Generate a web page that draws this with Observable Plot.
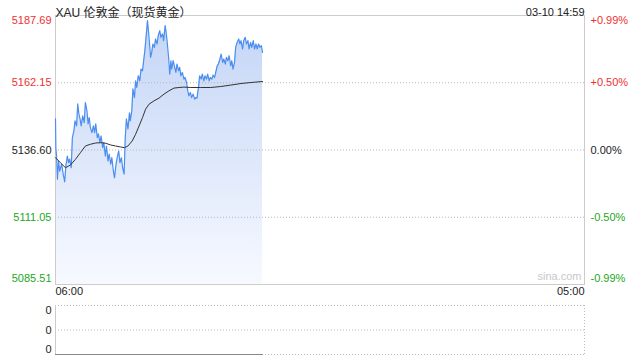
<!DOCTYPE html>
<html>
<head>
<meta charset="utf-8">
<script src="https://cdn.jsdelivr.net/npm/d3@7"></script>
<script src="https://cdn.jsdelivr.net/npm/@observablehq/plot@0.6"></script>
<style>
  html, body { margin: 0; padding: 0; background: #fff; }
  #wrap { position: relative; width: 640px; height: 360px; overflow: hidden; }
  #main { position: absolute; left: 0; top: 0; }
  #vol { position: absolute; left: 0; top: 300px; }
</style>
</head>
<body>
<div id="wrap"><div id="main"></div><div id="vol"></div></div>
<script>
// ---- data (minutes after 06:00, price) ----
const title = "XAU 伦敦金（现货黄金）";
const stamp = "03-10 14:59";
const sessionStart = "06:00";
const sessionEnd = "05:00";
const sessionMinutes = 1380;

const priceMinutes = [0,1,3,5,8,11,16,20,24,27,31,34,37,41,44,48,51,55,58,61,64,67,71,75,78,82,85,88,91,95,99,102,105,109,112,116,119,123,126,130,133,137,140,144,147,151,154,158,161,165,168,172,175,179,182,185,189,193,195,199,202,206,209,212,216,220,223,227,230,233,237,240,244,248,251,254,258,261,265,268,272,275,279,282,286,288,291,295,298,301,303,307,310,314,317,321,324,327,331,335,338,342,345,348,352,355,359,363,366,369,373,376,380,383,387,390,394,397,401,404,408,411,415,418,422,425,429,432,436,439,443,446,450,453,457,460,463,467,470,474,478,481,484,488,491,495,498,502,505,509,512,516,519,523,526,530,533,537,540];
const prices = [5148.41,5137.36,5133.67,5125.55,5132.41,5128.60,5131.27,5127.46,5124.52,5130.50,5134.31,5131.76,5133.17,5129.86,5141.29,5143.84,5147.65,5145.74,5154.13,5150.32,5148.41,5145.74,5149.55,5147.00,5154.62,5151.46,5146.51,5148.91,5145.10,5143.19,5145.74,5143.19,5146.51,5141.29,5142.70,5139.38,5141.93,5137.48,5139.38,5134.31,5138.12,5132.41,5135.08,5131.27,5133.67,5128.60,5126.05,5131.27,5133.67,5136.22,5131.76,5133.67,5129.86,5127.46,5141.29,5148.41,5144.60,5150.70,5147.65,5151.46,5159.84,5156.53,5162.89,5160.34,5164.79,5162.89,5167.35,5166.70,5170.51,5174.32,5180.68,5185.75,5179.39,5171.77,5173.67,5176.87,5175.58,5178.78,5176.87,5180.03,5181.94,5179.39,5180.68,5178.13,5183.84,5181.94,5178.13,5171.77,5165.44,5170.51,5167.35,5170.51,5168.60,5166.05,5169.25,5166.70,5167.96,5164.79,5166.05,5163.54,5164.15,5162.24,5159.08,5157.17,5158.43,5156.53,5157.82,5155.92,5156.53,5156.30,5160.34,5164.79,5163.54,5165.44,5162.89,5164.79,5163.54,5165.44,5162.89,5164.15,5163.54,5165.06,5164.15,5166.05,5168.60,5169.25,5171.16,5173.06,5169.86,5171.16,5169.25,5171.77,5170.51,5172.41,5168.60,5170.51,5167.35,5169.86,5175.58,5177.48,5178.78,5176.87,5178.13,5174.97,5178.13,5179.39,5176.87,5178.13,5174.97,5177.48,5175.58,5178.13,5174.97,5176.87,5174.97,5176.87,5175.58,5176.22,5173.67];

const avgMinutes = [0,13,26,39,52,65,78,91,105,118,131,144,157,170,180,189,200,209,218,227,235,244,257,270,283,296,309,322,335,353,379,405,431,457,484,510,540];
const avgPrices = [5133.67,5131.76,5129.86,5130.89,5133.06,5135.57,5138.12,5138.77,5139.27,5139.38,5139.15,5138.51,5138.12,5137.74,5137.48,5138.12,5140.03,5142.58,5145.74,5148.91,5152.11,5154.01,5155.27,5156.30,5157.82,5159.08,5160.11,5160.34,5160.49,5160.34,5160.34,5160.34,5160.72,5161.25,5161.86,5162.24,5162.62];

const tickValues = [5187.69, 5162.15, 5136.60, 5111.05, 5085.51];
const leftLabels = ["5187.69", "5162.15", "5136.60", "5111.05", "5085.51"];
const rightLabels = ["+0.99%", "+0.50%", "0.00%", "-0.50%", "-0.99%"];
const labelColors = ["#f03030", "#f03030", "#222222", "#22a822", "#22a822"];

const volumeMinutes = [0, 540];
const volumes = [0, 0];
const volumeTicks = [2, 1, 0];
const volumeLabels = ["0", "0", "0"];

// ---- build ----
const priceData = priceMinutes.map((m, i) => ({m, p: prices[i]}));
const avgData = avgMinutes.map((m, i) => ({m, p: avgPrices[i]}));
const ticks = tickValues.map((v, i) => ({v, left: leftLabels[i], right: rightLabels[i], c: labelColors[i], i}));
const yMin = d3.min(tickValues), yMax = d3.max(tickValues);
const font = "'Liberation Sans', Arial, 'Noto Sans CJK SC', sans-serif";

const gradient = () => {
  const defs = d3.create("svg:defs");
  const g = defs.append("linearGradient").attr("id", "areaGrad").attr("x1", 0).attr("y1", 0).attr("x2", 0).attr("y2", 1);
  g.append("stop").attr("offset", "0%").attr("stop-color", "#c3d5f6");
  g.append("stop").attr("offset", "100%").attr("stop-color", "#f7f9ff");
  return defs.node();
};

const topT = ticks.filter(d => d.i === 0);
const midT = ticks.filter(d => d.i > 0 && d.i < ticks.length - 1);
const botT = ticks.filter(d => d.i === ticks.length - 1);

const labelMarks = (rows, dy) => [
  Plot.text(rows, {y: "v", text: "left", fill: "c", frameAnchor: "left", textAnchor: "end", dx: -4, dy}),
  Plot.text(rows, {y: "v", text: "right", fill: "c", frameAnchor: "right", textAnchor: "start", dx: 6, dy})
];

const main = Plot.plot({
  width: 640, height: 300,
  marginTop: 15, marginBottom: 16, marginLeft: 55, marginRight: 56,
  x: {domain: [0, sessionMinutes], axis: null},
  y: {domain: [yMin, yMax], axis: null},
  color: {type: "identity"},
  style: {fontFamily: font, fontSize: "11px", background: "#fff", overflow: "visible"},
  marks: [
    gradient,
    Plot.areaY(priceData, {x: "m", y1: yMin, y2: "p", fill: "url(#areaGrad)"}),
    Plot.ruleY(midT, {y: "v", stroke: "#b8b8b8", strokeDasharray: "1,2"}),
    Plot.frame({stroke: "#cccccc"}),
    Plot.lineY(priceData, {x: "m", y: "p", stroke: "#4b8ef0", strokeWidth: 1.2}),
    Plot.lineY(avgData, {x: "m", y: "p", stroke: "#333", strokeWidth: 1}),
    ...labelMarks(topT, 5),
    ...labelMarks(midT, 0),
    ...labelMarks(botT, -6),
    Plot.text([sessionStart], {x: 0, text: d => d, frameAnchor: "bottom", textAnchor: "start", dy: 10, fill: "#222"}),
    Plot.text([sessionEnd], {x: sessionMinutes, text: d => d, frameAnchor: "bottom", textAnchor: "end", dy: 10, fill: "#222"}),
    Plot.text([title], {text: d => d, frameAnchor: "top-left", textAnchor: "start", dy: -7, fontSize: 12, fill: "#222"}),
    Plot.text([stamp], {text: d => d, frameAnchor: "top-right", textAnchor: "end", dy: -7, fill: "#222"}),
    Plot.text(["sina.com"], {text: d => d, frameAnchor: "bottom-right", textAnchor: "end", dx: -3, dy: -5, fill: "#c8c8c8"})
  ]
});
document.getElementById("main").appendChild(main);

const volData = volumeMinutes.map((m, i) => ({m, v: volumes[i]}));
const vt = volumeTicks.map((v, i) => ({v, t: volumeLabels[i], i}));
const vol = Plot.plot({
  width: 640, height: 60,
  marginTop: 5, marginBottom: 6, marginLeft: 55, marginRight: 56,
  x: {domain: [0, sessionMinutes], axis: null},
  y: {domain: [d3.min(volumeTicks), d3.max(volumeTicks)], axis: null},
  style: {fontFamily: font, fontSize: "11px", background: "#fff", overflow: "visible"},
  marks: [
    Plot.ruleY(vt, {y: "v", stroke: "#bbbbbb", strokeDasharray: "1,2"}),
    Plot.ruleX([sessionMinutes], {stroke: "#bbbbbb", strokeDasharray: "1,2"}),
    Plot.ruleX([0], {stroke: "#cccccc"}),
    Plot.lineY(volData, {x: "m", y: "v", stroke: "#888", strokeWidth: 1.2}),
    Plot.text(vt.filter(d => d.i === 0), {y: "v", text: "t", frameAnchor: "left", textAnchor: "end", dx: -4, dy: 5, fill: "#222"}),
    Plot.text(vt.filter(d => d.i === 1), {y: "v", text: "t", frameAnchor: "left", textAnchor: "end", dx: -4, dy: 0, fill: "#222"}),
    Plot.text(vt.filter(d => d.i === 2), {y: "v", text: "t", frameAnchor: "left", textAnchor: "end", dx: -4, dy: -5, fill: "#222"})
  ]
});
document.getElementById("vol").appendChild(vol);
</script>
</body>
</html>
